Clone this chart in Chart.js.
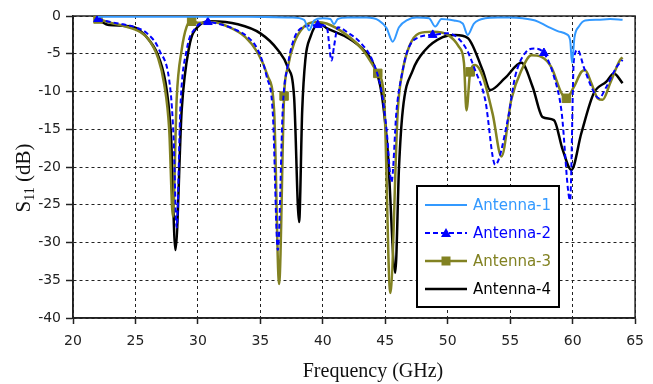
<!DOCTYPE html>
<html>
<head>
<meta charset="utf-8">
<script src="https://cdn.jsdelivr.net/npm/chart.js@4.4.1/dist/chart.umd.min.js"></script>
<style>
  body { margin: 0; background: #fff; }
  #wrap { width: 653px; height: 384px; position: relative; }
</style>
</head>
<body>
<div id="wrap"><canvas id="myChart"></canvas></div>
<script>
// S11 curves (GHz, dB)
const ant1Freq = [22, 26, 30, 34, 37.5, 38.5, 38.9, 39.3, 40, 40.6, 40.9, 41.2, 42, 43.5, 44.5, 45.1, 45.6, 46.1, 46.8, 47.5, 48.5, 49, 49.5, 50.5, 51.2, 51.6, 52.1, 53, 54, 55, 56, 57, 58, 58.8, 59.5, 59.8, 59.95, 60.15, 60.5, 61, 62, 63, 64];
const ant1S11 = [-0.1, -0.1, -0.1, -0.1, -0.2, -0.5, -1.9, -0.6, -0.3, -0.4, -1.1, -0.4, -0.2, -0.2, -0.6, -1.6, -3.4, -1.5, -0.5, -0.2, -0.3, -1.4, -0.4, -0.6, -1.0, -2.5, -1.0, -0.3, -0.2, -0.2, -0.3, -0.6, -1.4, -2.0, -2.4, -3.2, -6.2, -2.8, -1.4, -0.6, -0.5, -0.4, -0.5];

const ant2Freq = [22, 23, 24, 25, 26, 26.9, 27.8, 28.05, 28.3, 28.6, 29.1, 29.8, 30.8, 32, 33, 34, 34.8, 35.5, 36, 36.4, 36.8, 37.2, 37.7, 38.4, 39.6, 40.3, 40.7, 40.9, 41.2, 42, 43, 44, 44.7, 45.1, 45.5, 45.9, 46.3, 46.8, 47.7, 48.8, 50, 51.4, 52.2, 53, 53.8, 54.8, 55.4, 56.2, 56.9, 57.7, 58.5, 59.1, 59.8, 60.1, 60.4, 60.9, 61.5, 62.1, 62.7, 63.5, 64];
const ant2S11 = [-0.4, -0.8, -1.1, -1.5, -2.4, -4.5, -9.8, -16, -28, -12, -4.5, -1.6, -0.8, -1.2, -1.8, -2.8, -4.5, -8, -13, -31, -12, -6.5, -3, -1.5, -1.2, -1.4, -5.9, -4, -1.5, -2.2, -3.5, -6, -10, -15, -22, -12.5, -8, -4.5, -2.8, -2.5, -2.3, -4.1, -7.2, -11.1, -19.7, -13.8, -8, -4.9, -4.3, -4.9, -8, -12.5, -24.4, -5.8, -4.5, -6.8, -9.4, -10.9, -9.4, -6.8, -5.8];
const ant2Marks = [22, 30.8, 39.6, 48.8, 57.7];

const ant3Freq = [22, 23, 24, 25, 26, 26.8, 27.3, 27.7, 28.0, 28.3, 28.7, 29.1, 29.5, 30, 31.1, 32.4, 33.8, 34.8, 35.6, 36.1, 36.5, 36.9, 37.2, 37.7, 38.5, 39.5, 40.3, 41.9, 43.2, 44.4, 44.9, 45.4, 46, 46.4, 46.9, 47.7, 48.8, 50, 50.9, 51.3, 51.5, 51.8, 52.2, 52.8, 53.6, 54.3, 55.1, 55.9, 56.7, 57.5, 58.3, 59.1, 59.5, 60.1, 60.7, 61.0, 61.5, 62, 62.4, 63, 63.8, 64];
const ant3S11 = [-0.4, -0.9, -1.3, -1.8, -3, -5.5, -9, -15, -26.6, -11, -4.5, -1.4, -0.7, -0.9, -0.8, -1.4, -2.8, -4.9, -8, -12.5, -35.5, -10.6, -6.8, -3.6, -1.4, -0.8, -1, -2.5, -4.5, -7.6, -10.7, -36.7, -12.5, -7.2, -4.1, -2.3, -2.1, -2.5, -4.1, -6.2, -12.5, -7.4, -6.5, -8, -13, -18.6, -11, -7.2, -5.2, -5.4, -6.8, -10.2, -10.9, -9.4, -7.4, -7.2, -8.9, -10.9, -11.1, -8.9, -5.8, -5.5];
const ant3Marks = [22, 29.5, 36.9, 44.4, 51.8, 59.5];

const ant4Freq = [22, 22.9, 24.7, 26.1, 26.9, 27.5, 27.85, 28.2, 28.7, 29.3, 30, 31.1, 33.2, 35, 36.4, 37.2, 37.7, 38.1, 38.35, 38.6, 39, 39.7, 40.3, 41.9, 43, 44, 44.7, 45.2, 45.8, 46.1, 46.4, 47.2, 48.2, 49.6, 50.6, 51.6, 52.8, 53.4, 54.6, 55.9, 56.8, 57.6, 58.5, 59.2, 59.9, 60.7, 61.7, 62.7, 63.3, 64];
const ant4S11 = [-0.5, -1.2, -1.4, -3.2, -5.6, -9.8, -16, -31, -12.5, -4.1, -1.4, -0.7, -1.1, -2.3, -4.5, -6.8, -10.7, -27.3, -12.5, -5.8, -2.8, -1, -1.6, -2.8, -4.1, -6.2, -10.2, -18, -34, -20, -12.5, -7.2, -4.5, -2.8, -2.5, -2.9, -7.2, -9.8, -8.2, -6.2, -9.4, -13.4, -13.8, -17.7, -20.4, -15.5, -10.2, -8.7, -7.6, -8.9];

const seriesNames = ['Antenna-1', 'Antenna-2', 'Antenna-3', 'Antenna-4'];
const seriesColors = ['#3399ff', '#0000ff', '#828222', '#000000'];

function pts(fs, vs) {
  return fs.map((f, i) => ({x: f, y: vs[i]}));
}

const data = {
  datasets: [
    {
      label: seriesNames[0], data: pts(ant1Freq, ant1S11),
      borderColor: seriesColors[0], borderWidth: 2, pointRadius: 0
    },
    {
      label: seriesNames[1], data: pts(ant2Freq, ant2S11),
      borderColor: seriesColors[1], backgroundColor: seriesColors[1], borderWidth: 2,
      borderDash: [5, 3], pointStyle: 'triangle',
      pointRadius: c => ant2Marks.includes(c.raw.x) ? 5 : 0, pointBorderWidth: 1
    },
    {
      label: seriesNames[2], data: pts(ant3Freq, ant3S11),
      borderColor: seriesColors[2], backgroundColor: seriesColors[2], borderWidth: 2.5,
      pointStyle: 'rect',
      pointRadius: c => ant3Marks.includes(c.raw.x) ? 6 : 0, pointBorderWidth: 1
    },
    {
      label: seriesNames[3], data: pts(ant4Freq, ant4S11),
      borderColor: seriesColors[3], borderWidth: 2.5, pointRadius: 0
    }
  ]
};

// frame around plot area (under the curves)
const framePlugin = {
  id: 'frame',
  beforeDatasetsDraw(chart) {
    const a = chart.chartArea, ctx = chart.ctx;
    ctx.save();
    ctx.strokeStyle = '#222';
    ctx.lineWidth = 1.5;
    ctx.strokeRect(a.left, a.top, a.right - a.left, a.bottom - a.top);
    ctx.restore();
  }
};

// legend box inside plot + axis titles
const extrasPlugin = {
  id: 'extras',
  afterDraw(chart) {
    const ctx = chart.ctx;
    ctx.save();
    // legend
    const bx = 417, by = 186, bw = 142, bh = 121;
    ctx.fillStyle = '#fff';
    ctx.fillRect(bx, by, bw, bh);
    ctx.strokeStyle = '#000';
    ctx.lineWidth = 2;
    ctx.strokeRect(bx, by, bw, bh);
    ctx.font = '15px "DejaVu Sans"';
    ctx.textBaseline = 'middle';
    ctx.textAlign = 'left';
    seriesNames.forEach((name, i) => {
      const ds = data.datasets[i];
      const y = by + 19 + i * 28;
      ctx.strokeStyle = seriesColors[i];
      ctx.lineWidth = ds.borderWidth;
      ctx.setLineDash(ds.borderDash || []);
      ctx.beginPath();
      ctx.moveTo(bx + 8, y);
      ctx.lineTo(bx + 50, y);
      ctx.stroke();
      ctx.setLineDash([]);
      ctx.fillStyle = seriesColors[i];
      const mx = bx + 29;
      if (i === 1) {
        ctx.beginPath();
        ctx.moveTo(mx, y - 5);
        ctx.lineTo(mx + 5, y + 4);
        ctx.lineTo(mx - 5, y + 4);
        ctx.closePath();
        ctx.fill();
      } else if (i === 2) {
        ctx.fillRect(mx - 4.5, y - 4.5, 9, 9);
      }
      ctx.fillText(name, bx + 56, y + 1);
    });

    // x title
    ctx.fillStyle = '#111';
    ctx.font = '20px "Liberation Serif"';
    ctx.textAlign = 'center';
    ctx.textBaseline = 'alphabetic';
    ctx.fillText('Frequency (GHz)', 373, 377);

    // y title with subscript
    ctx.translate(30, 178);
    ctx.rotate(-Math.PI / 2);
    const big = '21px "Liberation Serif"', small = '14px "Liberation Serif"';
    ctx.font = big;
    const wS = ctx.measureText('S').width, wT = ctx.measureText(' (dB)').width;
    ctx.font = small;
    const w11 = ctx.measureText('11').width;
    let x0 = -(wS + w11 + wT) / 2;
    ctx.textAlign = 'left';
    ctx.font = big;
    ctx.fillText('S', x0, 0);
    ctx.font = small;
    ctx.fillText('11', x0 + wS, 4);
    ctx.font = big;
    ctx.fillText(' (dB)', x0 + wS + w11, 0);
    ctx.restore();
  }
};

const tickFont = {family: 'DejaVu Sans', size: 14};

const config = {
  type: 'line',
  data: data,
  options: {
    responsive: true,
    maintainAspectRatio: false,
    animation: false,
    events: [],
    layout: {padding: {top: 16, right: 11, left: 0, bottom: 0}},
    elements: {line: {cubicInterpolationMode: 'monotone'}},
    plugins: {legend: {display: false}, tooltip: {enabled: false}},
    scales: {
      x: {
        type: 'linear', min: 20, max: 65,
        afterFit: s => { s.height = 66; },
        ticks: {stepSize: 5, font: tickFont, color: '#222', padding: 9},
        grid: {color: '#222', lineWidth: 1, tickLength: 6, tickColor: '#222', tickWidth: 1.5, tickBorderDash: []},
        border: {display: true, color: '#222', width: 1.5, dash: [3, 3]}
      },
      y: {
        min: -40, max: 0,
        afterFit: s => { s.width = 73; },
        ticks: {stepSize: 5, font: tickFont, color: '#222', padding: 5},
        grid: {color: '#222', lineWidth: 1, tickLength: 7, tickColor: '#222', tickWidth: 1.5, tickBorderDash: []},
        border: {display: true, color: '#222', width: 1.5, dash: [3, 3]}
      }
    }
  },
  plugins: [framePlugin, extrasPlugin]
};

const myChart = new Chart(document.getElementById('myChart'), config);
</script>
</body>
</html>
